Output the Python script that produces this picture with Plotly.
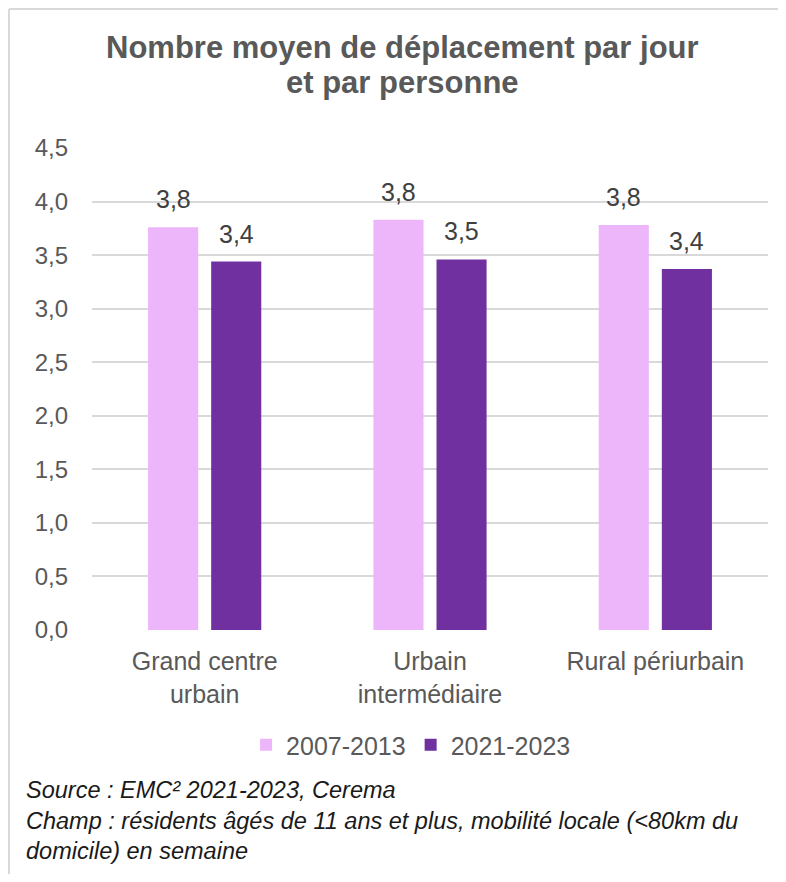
import plotly.graph_objects as go

categories = ["Grand centre<br>urbain", "Urbain<br>intermédiaire", "Rural périurbain"]
series_names = ["2007-2013", "2021-2023"]
values_2007_2013 = [3.76, 3.83, 3.78]
values_2021_2023 = [3.44, 3.46, 3.37]
y_ticks = [0, 0.5, 1, 1.5, 2, 2.5, 3, 3.5, 4, 4.5]
title_lines = ["Nombre moyen de déplacement par jour", "et par personne"]

colors = ["#EDB6FB", "#7030A0"]
font_family = "Liberation Sans, Arial, sans-serif"

fig = go.Figure()
for name, vals, col in zip(series_names, [values_2007_2013, values_2021_2023], colors):
    fig.add_trace(go.Bar(x=categories, y=vals, name=name, marker=dict(color=col, line=dict(width=0))))

annotations = []
for i, vals in enumerate([values_2007_2013, values_2021_2023]):
    for cat, v in zip(categories, vals):
        annotations.append(dict(
            x=cat, y=v, xref="x", yref="y", text=f"{v:.1f}".replace(".", ","),
            showarrow=False, yanchor="bottom", yshift=12, xshift=(-31.5 if i == 0 else 31.5),
            font=dict(family=font_family, size=25, color="#404040")))

for line, ypos in zip(title_lines, [1 + 101 / 482, 1 + 66 / 482]):
    annotations.append(dict(
        xref="paper", yref="paper", x=0.460, y=ypos, xanchor="center", yanchor="middle",
        text=f"<b>{line}</b>", showarrow=False,
        font=dict(family=font_family, size=31, color="#595959")))

footer = ("Source : EMC² 2021-2023, Cerema<br>"
          "Champ : résidents âgés de 11 ans et plus, mobilité locale (&lt;80km du<br>"
          "domicile) en semaine")
annotations.append(dict(
    xref="paper", yref="paper", x=-0.1006, y=-0.301, xanchor="left", yanchor="top",
    text=footer, showarrow=False, align="left",
    font=dict(family="Liberation Sans, Arial", size=23.5, color="#1a1a1a", style="italic")))

fig.update_layout(
    width=770, height=866,
    margin=dict(l=84, r=10, t=140, b=244),
    paper_bgcolor="white", plot_bgcolor="white",
    separators=", ",
    barmode="group", bargap=0.44, bargroupgap=0.206,
    font=dict(family=font_family, color="#595959"),
    xaxis=dict(showgrid=False, zeroline=False, showline=False, ticks="",
               ticklabelstandoff=14,
               tickfont=dict(size=25, color="#595959"), range=[-0.5, 2.5]),
    yaxis=dict(range=[0, 4.5], tickvals=y_ticks, tickformat=".1f",
               showgrid=True, gridcolor="#D9D9D9", gridwidth=2, zeroline=False,
               showline=False, ticks="", ticklabelstandoff=23,
               tickfont=dict(size=24, color="#595959")),
    legend=dict(orientation="h", x=0.472, xanchor="center", y=-0.2386, yanchor="middle",
                font=dict(size=25, color="#595959"), traceorder="normal",
                itemwidth=30, tracegroupgap=0),
    showlegend=True,
    annotations=annotations,
    shapes=[
        dict(type="line", xref="paper", yref="paper", x0=-83/676, x1=1.0148, y0=1+139/482, y1=1+139/482,
             line=dict(color="#D9D9D9", width=2)),
        dict(type="line", xref="paper", yref="paper", x0=-83/676, x1=-83/676, y0=1+139/482, y1=-0.506,
             line=dict(color="#D9D9D9", width=2)),
    ],
)

fig.write_html("out.html")
